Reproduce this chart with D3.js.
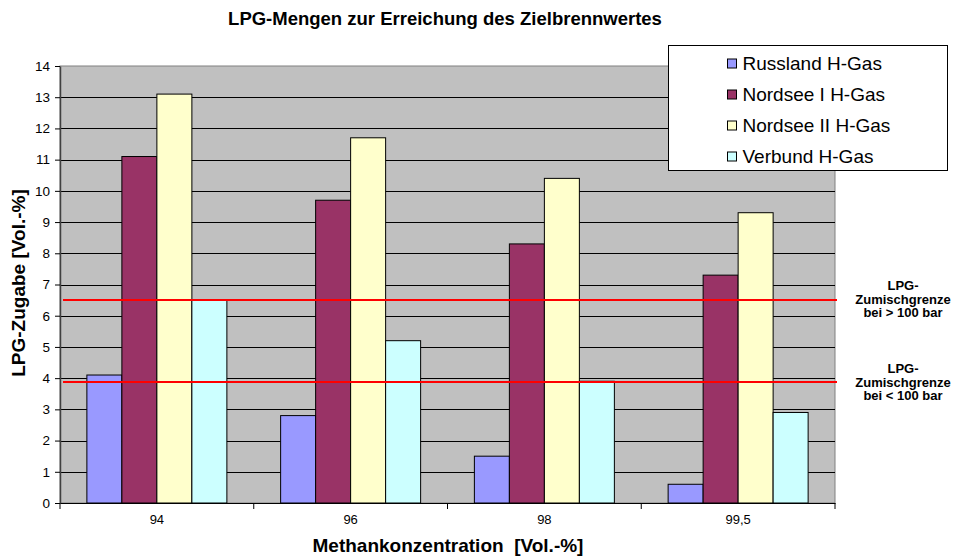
<!DOCTYPE html>
<html><head><meta charset="utf-8">
<script src="https://cdn.jsdelivr.net/npm/d3@7"></script>
<style>body{margin:0;background:#fff}svg{display:block;font-family:Arial,"Liberation Sans",sans-serif}</style>
</head><body><svg id="c" width="961" height="558"></svg>
<script>
const categories = ["94", "96", "98", "99,5"];
const seriesNames = ["Russland H-Gas", "Nordsee I H-Gas", "Nordsee II H-Gas", "Verbund H-Gas"];
const russland = [4.1, 2.8, 1.5, 0.6];
const nordseeI = [11.1, 9.7, 8.3, 7.3];
const nordseeII = [13.1, 11.7, 10.4, 9.3];
const verbund = [6.5, 5.2, 3.9, 2.9];
const colors = ["#9999FF", "#993366", "#FFFFCC", "#CCFFFF"];
const yTicks = [0,1,2,3,4,5,6,7,8,9,10,11,12,13,14];
const limitValues = [6.5, 3.88];
const limitLabels = [["LPG-", "Zumischgrenze", "bei > 100 bar"], ["LPG-", "Zumischgrenze", "bei < 100 bar"]];

const series = [russland, nordseeI, nordseeII, verbund];
const svg = d3.select("#c");
const L = 60, R = 835, T = 66, B = 503;
const FF = "Arial, 'Liberation Sans', sans-serif";

const x = d3.scaleBand().domain(categories).range([L, R]).paddingInner(0).paddingOuter(0);
const xi = d3.scaleBand().domain(d3.range(series.length)).range([0, x.bandwidth()]).paddingOuter(0.768).paddingInner(0);
const y = d3.scaleLinear().domain([0, 14]).range([B, T]);

// plot background
svg.append("rect").attr("x", L).attr("y", T).attr("width", R - L).attr("height", B - T)
  .attr("fill", "#C0C0C0").attr("stroke", "#808080").attr("stroke-width", 1);

// gridlines
svg.append("g").selectAll("line").data(yTicks.filter(d => d > 0 && d < 14)).join("line")
  .attr("x1", L).attr("x2", R).attr("y1", d => Math.round(y(d)) + 0.5).attr("y2", d => Math.round(y(d)) + 0.5)
  .attr("stroke", "#000").attr("stroke-width", 1);

// bars
const g = svg.append("g");
categories.forEach((c, ci) => {
  series.forEach((s, si) => {
    g.append("rect")
      .attr("x", x(c) + xi(si)).attr("width", xi.bandwidth())
      .attr("y", y(s[ci])).attr("height", B - y(s[ci]))
      .attr("fill", colors[si]).attr("stroke", "#000").attr("stroke-width", 1);
  });
});

// red limit lines
svg.append("g").selectAll("line").data(limitValues).join("line")
  .attr("x1", L + 3).attr("x2", R + 2).attr("y1", d => y(d)).attr("y2", d => y(d))
  .attr("stroke", "#FF0000").attr("stroke-width", 2);

// y axis
const yAxis = d3.axisLeft(y).tickValues(yTicks).tickSize(5).tickSizeOuter(0).tickFormat(d3.format("d"));
const ya = svg.append("g").attr("transform", `translate(${L},0)`).call(yAxis);
ya.select(".domain").attr("stroke", "#404040").attr("stroke-width", 1.5);
ya.selectAll(".tick line").attr("stroke", "#000");
ya.selectAll("text").attr("font-size", 13.5).attr("fill", "#000").attr("font-family", FF).attr("x", -10);

// x axis
const xa = svg.append("g").attr("transform", `translate(0,${B})`).call(d3.axisBottom(x).tickSize(0).tickSizeOuter(0));
xa.select(".domain").attr("stroke", "#000");
xa.selectAll("text").attr("font-size", 13).attr("fill", "#000").attr("font-family", FF).attr("y", 12).attr("dy", "0.71em");
const bounds = categories.map(c => x(c)).concat([R]);
svg.append("g").selectAll("line").data(bounds).join("line")
  .attr("x1", d => d).attr("x2", d => d).attr("y1", B).attr("y2", B + 6).attr("stroke", "#000");

// titles
svg.append("text").attr("x", 445).attr("y", 25).attr("text-anchor", "middle")
  .attr("font-size", 18.5).attr("font-weight", "bold").text("LPG-Mengen zur Erreichung des Zielbrennwertes");
svg.append("text").attr("x", 448).attr("y", 552).attr("text-anchor", "middle")
  .attr("font-size", 19).attr("font-weight", "bold").attr("xml:space", "preserve").text("Methankonzentration  [Vol.-%]");
svg.append("text").attr("transform", "translate(25,283) rotate(-90)").attr("text-anchor", "middle")
  .attr("font-size", 19).attr("font-weight", "bold").text("LPG-Zugabe [Vol.-%]");

// limit annotations
limitLabels.forEach((lines, i) => {
  const t = svg.append("text").attr("text-anchor", "middle").attr("font-size", 13).attr("font-weight", "bold");
  lines.forEach((ln, j) => t.append("tspan").attr("x", 903).attr("y", (i === 0 ? 290 : 373) + j * 13.7).text(ln));
});

// legend
const lg = svg.append("g").attr("transform", "translate(668.5,45.5)");
lg.append("rect").attr("width", 279).attr("height", 125).attr("fill", "#fff").attr("stroke", "#000");
seriesNames.forEach((n, i) => {
  const yy = 18 + i * 31;
  lg.append("rect").attr("x", 59).attr("y", yy - 4.5).attr("width", 9).attr("height", 9)
    .attr("fill", colors[i]).attr("stroke", "#000");
  lg.append("text").attr("x", 74).attr("y", yy).attr("dy", "0.35em").attr("font-size", 19).text(n);
});
</script></body></html>
